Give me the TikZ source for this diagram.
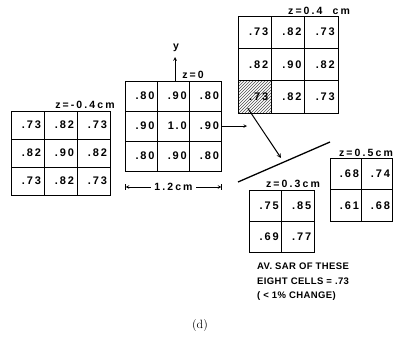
\documentclass[tikz,border=0pt]{standalone}
\usepackage{fontspec}
\setsansfont{Liberation Sans}
\newfontfamily\numfont[LetterSpace=17]{Liberation Sans}
\newfontfamily\labfont[LetterSpace=20]{Liberation Sans}
\newfontfamily\notefont[LetterSpace=4]{Liberation Sans}
\usetikzlibrary{patterns}

\tikzset{
  cell/.style={draw, line width=0.6pt, inner xsep=0pt, inner ysep=0pt, text width=27pt, align=right,
               font=\numfont\bfseries\fontsize{11}{12}\selectfont},
  zlab/.style={inner sep=0pt, font=\labfont\bfseries\fontsize{10.5}{11}\selectfont},
  hatch/.style={pattern=north east lines, pattern color=black!70}
}

\begin{document}
\begin{tikzpicture}[x=1pt, y=-1pt, >=stealth]
    \useasboundingbox (0,0) rectangle (398,340);

    % Левая сетка, z=-0.4cm
    \foreach \r/\a/\b/\c in {1/.73/.82/.73, 2/.82/.90/.82, 3/.73/.82/.73} {
        \node[cell, minimum width=33pt, minimum height=28pt] (L\r1) at (27.5, 111+28*\r-14) {\a};
        \node[cell, minimum width=33pt, minimum height=28pt] (L\r2) at (60.5, 111+28*\r-14) {\b};
        \node[cell, minimum width=33pt, minimum height=28pt] (L\r3) at (93.5, 111+28*\r-14) {\c};
    }
    \node[zlab] (zL) at (85,105) {z=-0.4cm};

    % Центральная сетка, z=0
    \foreach \r/\a/\b/\c in {1/.80/.90/.80, 2/.90/1.0/.90, 3/.80/.90/.80} {
        \node[cell, minimum width=32.2pt, minimum height=30pt] (C\r1) at (141.1, 81+30*\r-15) {\a};
        \node[cell, minimum width=32.2pt, minimum height=30pt] (C\r2) at (173.3, 81+30*\r-15) {\b};
        \node[cell, minimum width=32.2pt, minimum height=30pt] (C\r3) at (205.5, 81+30*\r-15) {\c};
    }
    \node[zlab] (zC) at (193,75) {z=0};

    % Ось y
    \coordinate (ytip) at (175,57);
    \node[zlab] (ylab) at (176,48) {y};
    \draw[->, line width=0.7pt] (C12.north -| ytip) -- (ytip);

    % Размер 1.2 cm
    \coordinate (dimL) at (125,187);
    \coordinate (dimR) at (222,187);
    \draw[|<->|, line width=0.6pt] (dimL) -- (dimR)
        node[midway, fill=white, inner xsep=3pt, inner ysep=1pt, font=\labfont\bfseries\fontsize{10.5}{11}\selectfont] (dimtxt) {1.2cm};

    % Стрелка вправо
    \coordinate (Cout) at (247,0);
    \draw[->, line width=0.6pt] (C23.east) -- (C23.east -| Cout);

    % Верхняя сетка, z=0.4 cm
    \fill[white] (238,80.6) rectangle (271.3,113);
    \fill[hatch] (238,80.6) rectangle (271.3,113);
    \foreach \r/\a/\b/\c in {1/.73/.82/.73, 2/.82/.90/.82, 3/.73/.82/.73} {
        \node[cell, minimum width=33.3pt, minimum height=32.3pt] (T\r1) at (254.7, 16+32.3*\r-16.15) {\a};
        \node[cell, minimum width=33.3pt, minimum height=32.3pt] (T\r2) at (288, 16+32.3*\r-16.15) {\b};
        \node[cell, minimum width=33.3pt, minimum height=32.3pt] (T\r3) at (321.3, 16+32.3*\r-16.15) {\c};
    }
    \node[zlab] (zT) at (319,11) {z=0.4\ \ cm};

    % Плоскость и стрелка
    \coordinate (planeA) at (238,182);
    \coordinate (planeB) at (330,142);
    \draw[line width=1.3pt] (planeA) -- (planeB);
    \coordinate (Ttip) at (281,158);
    \draw[->, line width=1pt] ([shift={(10,-5)}]T31.south west) -- (Ttip);

    % Нижняя сетка, z=0.3cm
    \foreach \r/\a/\b in {1/.75/.85, 2/.69/.77} {
        \node[cell, minimum width=32.5pt, minimum height=31pt] (B\r1) at (265.2, 190+31*\r-15.5) {\a};
        \node[cell, minimum width=32.5pt, minimum height=31pt] (B\r2) at (297.7, 190+31*\r-15.5) {\b};
    }
    \node[zlab] (zB) at (293,184) {z=0.3cm};

    % Правая сетка, z=0.5cm
    \foreach \r/\a/\b in {1/.68/.74, 2/.61/.68} {
        \node[cell, minimum width=31pt, minimum height=31.5pt] (R\r1) at (345.5, 158+31.5*\r-15.75) {\a};
        \node[cell, minimum width=31pt, minimum height=31.5pt] (R\r2) at (376.5, 158+31.5*\r-15.75) {\b};
    }
    \node[zlab] (zR) at (366,153) {z=0.5cm};

    % Итог
    \node[anchor=north west, align=left, inner sep=0pt,
          font=\notefont\bfseries\fontsize{9.5}{14.5}\selectfont] (note) at (257,263)
        {AV. SAR OF THESE\\EIGHT CELLS = .73\\( < 1\% CHANGE)};

    \node[font=\fontsize{12}{14}\selectfont] (cap) at (200,325) {(d)};
\end{tikzpicture}
\end{document}
